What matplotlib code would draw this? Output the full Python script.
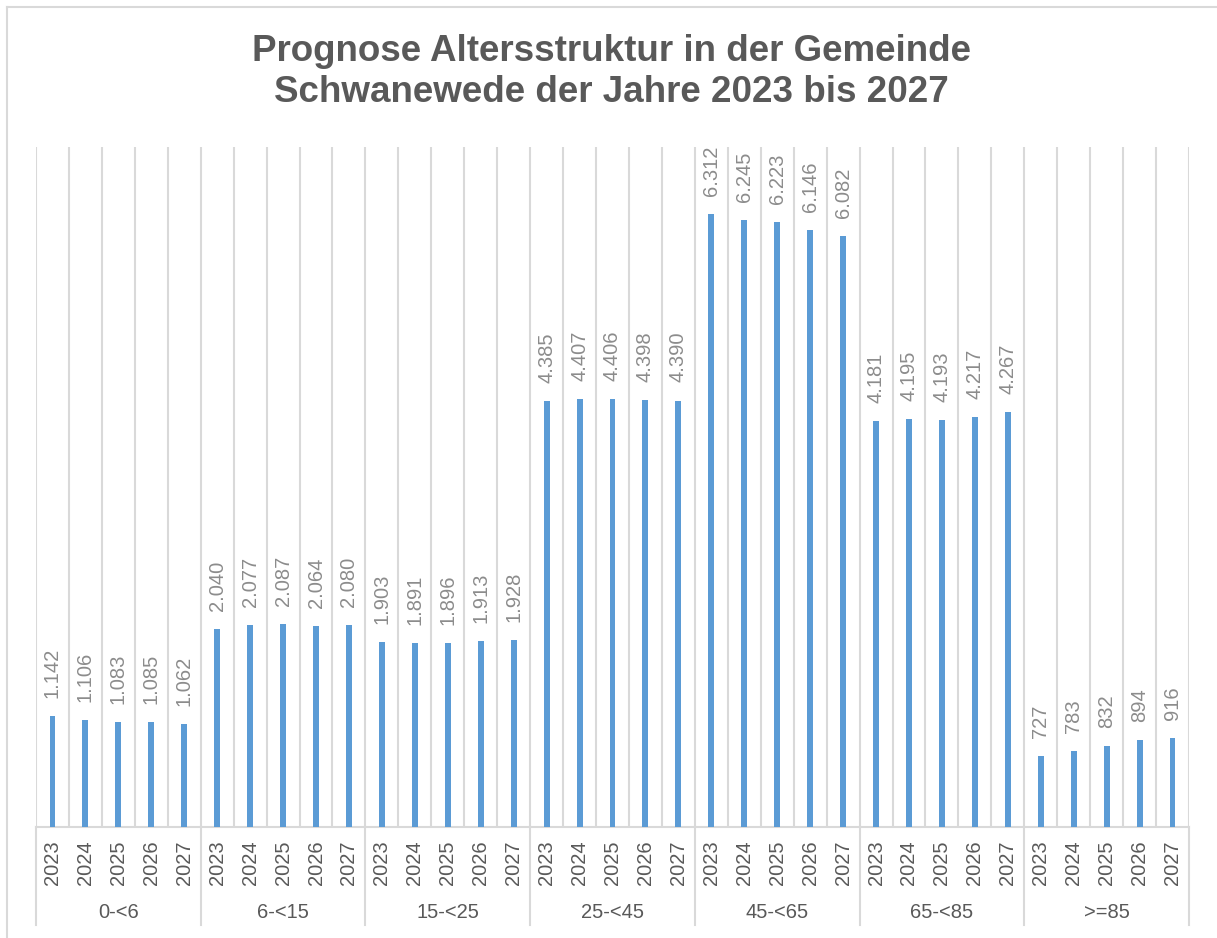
import matplotlib.pyplot as plt
from matplotlib.transforms import blended_transform_factory
import numpy as np

plt.rcParams['font.family'] = ['Liberation Sans', 'DejaVu Sans']

groups = ['0-<6', '6-<15', '15-<25', '25-<45', '45-<65', '65-<85', '>=85']
years = ['2023', '2024', '2025', '2026', '2027']
values = {
    '0-<6':   [1142, 1106, 1083, 1085, 1062],
    '6-<15':  [2040, 2077, 2087, 2064, 2080],
    '15-<25': [1903, 1891, 1896, 1913, 1928],
    '25-<45': [4385, 4407, 4406, 4398, 4390],
    '45-<65': [6312, 6245, 6223, 6146, 6082],
    '65-<85': [4181, 4195, 4193, 4217, 4267],
    '>=85':   [727, 783, 832, 894, 916],
}

W, H = 1217, 938
fig = plt.figure(figsize=(W / 100, H / 100), dpi=100)

# chart border (only top/left visible in the crop)
fig.add_artist(plt.Line2D([7 / W, 1.0], [1 - 7 / H, 1 - 7 / H], color='#d9d9d9', lw=1.5))
fig.add_artist(plt.Line2D([7 / W, 7 / W], [0, 1 - 7 / H], color='#d9d9d9', lw=1.5))

x0, x1, ytop, ybase = 36, 1189, 147, 827
ax = fig.add_axes([x0 / W, 1 - ybase / H, (x1 - x0) / W, (ybase - ytop) / H])

heights = [v for g in groups for v in values[g]]
n = len(heights)
xs = np.arange(n) + 0.5
bar_col = '#5b9bd5'
grid_col = '#d9d9d9'

ax.set_xlim(0, n)
ax.set_ylim(0, 7000)
ax.vlines(np.arange(n + 1), 0, 7000, color=grid_col, lw=1.5, zorder=0)
ax.bar(xs, heights, width=0.18, color=bar_col, zorder=2)
ax.axhline(0, color=grid_col, lw=1.5, zorder=1, clip_on=False)

for x, v in zip(xs, heights):
    lab = f'{v:,}'.replace(',', '.')
    ax.annotate(lab, (x, v), xytext=(0, 13), textcoords='offset points',
                rotation=90, ha='center', va='bottom', fontsize=14.5, color='#8c8c8c')

for s in ax.spines.values():
    s.set_visible(False)
ax.set_xticks([])
ax.set_yticks([])

trans = blended_transform_factory(ax.transData, ax.transAxes)
ph = ybase - ytop
i = 0
for gi, g in enumerate(groups):
    for y in years:
        ax.text(xs[i], -(863 - ybase) / ph, y, transform=trans, rotation=90,
                ha='center', va='center', fontsize=14.5, color='#595959')
        i += 1
    ax.text(gi * 5 + 2.5, -(913 - ybase) / ph, g, transform=trans,
            ha='center', va='center', fontsize=14.5, color='#595959')
for b in range(0, n + 1, 5):
    ax.plot([b, b], [0, -(925 - ybase) / ph], transform=trans, color=grid_col,
            lw=1.5, clip_on=False)

fig.text(611 / W, 1 - 72 / H, 'Prognose Altersstruktur in der Gemeinde\nSchwanewede der Jahre 2023 bis 2027',
         ha='center', va='center', fontsize=26.5, fontweight='bold', color='#595959',
         linespacing=1.25)

fig.savefig('out.png', dpi=100)
